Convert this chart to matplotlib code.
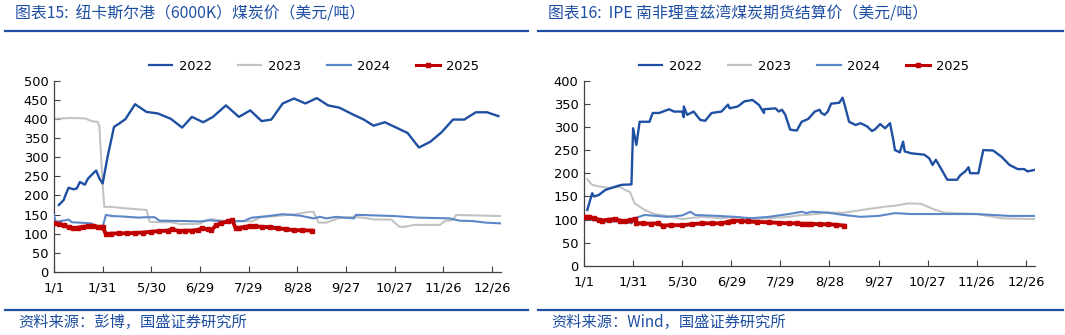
import matplotlib
matplotlib.use("Agg")
import matplotlib.pyplot as plt
from matplotlib.lines import Line2D

plt.rcParams["font.family"] = ["DejaVu Sans", "Noto Sans CJK SC"]

# x positions are days since 1/1; one tick every 30 days
TICK_LABELS = ["1/1", "1/31", "5/30", "6/29", "7/29", "8/28", "9/27", "10/27", "11/26", "12/26"]
YEARS = ["2022", "2023", "2024", "2025"]
COLORS = {"2022": "#1F4FA3", "2023": "#C3C3C3", "2024": "#5B87C8", "2025": "#C00000"}

# ---- Newcastle (6000K) spot price ----
nc_2022_x = [3, 6, 7, 9, 12, 14, 16, 19, 21, 24, 26, 28, 30, 33, 37, 40, 44, 50, 57, 64, 72, 79,
             85, 92, 98, 106, 114, 121, 128, 134, 141, 148, 155, 162, 169, 176, 183, 191, 197,
             204, 211, 218, 225, 232, 239, 246, 253, 260, 267, 274]
nc_2022_y = [175, 188, 200, 220, 216, 218, 235, 228, 244, 257, 265, 244, 231, 300, 379, 387, 399,
             438, 418, 414, 400, 377, 405, 391, 405, 435, 405, 422, 394, 398, 440, 453, 440, 454,
             435, 429, 414, 398, 382, 391, 377, 363, 325, 340, 365, 398, 398, 417, 417, 407]

nc_2023_x = [0, 10, 19, 24, 27, 28, 30, 31, 36, 42, 51, 57, 59, 65, 72, 78, 90, 94, 97, 105, 115,
             122, 128, 134, 149, 157, 160, 163, 168, 175, 184, 190, 198, 208, 213, 216, 222, 238,
             241, 246, 248, 276]
nc_2023_y = [400, 402, 401, 393, 392, 380, 230, 170, 170, 167, 164, 162, 131, 130, 130, 125, 126,
             135, 138, 133, 133, 132, 144, 145, 151, 157, 157, 129, 129, 140, 144, 142, 137, 137,
             118, 118, 123, 123, 133, 136, 149, 146]

nc_2024_x = [0, 1, 7, 9, 11, 19, 23, 26, 28, 30, 32, 36, 42, 52, 57, 62, 65, 81, 90, 96, 105, 117,
             122, 130, 141, 152, 160, 164, 168, 174, 185, 186, 189, 210, 224, 244, 250, 258, 266, 275]
nc_2024_y = [149, 131, 135, 137, 130, 128, 127, 118, 117, 118, 149, 146, 145, 142, 143, 143, 134,
             133, 132, 135, 132, 133, 142, 145, 151, 147, 140, 144, 140, 144, 140, 149, 149, 146,
             142, 140, 134, 133, 129, 127]

nc_2025_x = [0, 3, 6, 9, 12, 15, 18, 21, 24, 27, 29, 30, 32, 35, 40, 45, 50, 55, 60, 65, 70, 73,
             77, 81, 85, 89, 91, 95, 97, 100, 103, 107, 110, 112, 114, 118, 121, 124, 128, 133,
             138, 143, 148, 153, 159]
nc_2025_y = [127, 125, 122, 117, 114, 116, 118, 119, 121, 118, 117, 117, 99, 100, 101, 101, 102,
             103, 105, 107, 108, 111, 107, 108, 108, 110, 114, 111, 109, 122, 127, 132, 135, 114,
             115, 118, 120, 119, 118, 117, 114, 112, 109, 109, 108]

# ---- IPE Richards Bay futures settlement ----
rb_2022_x = [2, 5, 6, 9, 13, 19, 23, 29, 30, 32, 34, 40, 42, 46, 52, 55, 60, 61, 61, 63, 67, 71,
             74, 78, 84, 88, 89, 94, 98, 103, 107, 110, 110, 117, 119, 121, 123, 126, 130, 133,
             137, 141, 144, 145, 147, 149, 151, 156, 158, 159, 162, 166, 169, 173, 176, 178, 181,
             184, 187, 189, 190, 193, 195, 196, 200, 208, 211, 213, 215, 218, 222, 228, 230, 233,
             235, 236, 241, 244, 250, 255, 260, 265, 269, 271, 275]
rb_2022_y = [121, 157, 150, 153, 164, 171, 175, 176, 297, 261, 311, 311, 330, 330, 338, 333, 333,
             321, 344, 326, 333, 315, 313, 330, 333, 348, 340, 344, 355, 358, 347, 330, 338, 340,
             333, 337, 326, 294, 292, 311, 317, 333, 337, 330, 326, 333, 350, 352, 363, 351, 311,
             304, 308, 301, 291, 295, 306, 297, 308, 272, 250, 245, 268, 247, 243, 240, 232, 218,
             229, 211, 186, 186, 196, 204, 213, 200, 200, 250, 249, 236, 218, 209, 209, 204, 207]

rb_2023_x = [2, 5, 10, 17, 22, 25, 28, 31, 37, 43, 51, 60, 64, 72, 84, 92, 102, 113, 125, 133,
             136, 149, 159, 170, 184, 190, 198, 206, 214, 220, 240, 255, 276]
rb_2023_y = [187, 175, 171, 168, 171, 164, 160, 135, 121, 112, 108, 101, 103, 106, 103, 106, 101,
             103, 106, 110, 110, 115, 115, 121, 128, 130, 135, 134, 122, 115, 112, 103, 101]

rb_2024_x = [1, 11, 25, 29, 31, 37, 51, 60, 65, 68, 82, 92, 102, 113, 125, 133, 136, 139, 149,
             159, 169, 180, 190, 200, 220, 240, 250, 260, 276]
rb_2024_y = [101, 96, 96, 92, 103, 110, 106, 109, 117, 110, 108, 106, 103, 106, 112, 117, 114,
             117, 115, 110, 106, 108, 114, 112, 112, 112, 110, 108, 108]

rb_2025_x = [1, 3, 6, 9, 11, 15, 19, 22, 25, 28, 31, 32, 36, 41, 45, 48, 53, 60, 66, 72, 78, 84,
             88, 91, 96, 100, 106, 113, 119, 125, 130, 133, 136, 139, 144, 149, 154, 159]
rb_2025_y = [106, 105, 103, 100, 98, 100, 101, 98, 96, 99, 101, 92, 92, 91, 92, 87, 88, 88, 90,
             92, 92, 92, 95, 98, 97, 96, 95, 94, 93, 92, 92, 91, 91, 91, 90, 90, 89, 87]

PANELS = [
    {
        "title": "图表15:  纽卡斯尔港（6000K）煤炭价（美元/吨）",
        "source": "资料来源：彭博，国盛证券研究所",
        "series": {"2022": (nc_2022_x, nc_2022_y), "2023": (nc_2023_x, nc_2023_y),
                   "2024": (nc_2024_x, nc_2024_y), "2025": (nc_2025_x, nc_2025_y)},
        "ymax": 500, "ystep": 50,
        "rect": [54, 80.5, 501, 272],
        "frame": [5, 528],
        "legend_x": 314,
    },
    {
        "title": "图表16:  IPE 南非理查兹湾煤炭期货结算价（美元/吨）",
        "source": "资料来源：Wind，国盛证券研究所",
        "series": {"2022": (rb_2022_x, rb_2022_y), "2023": (rb_2023_x, rb_2023_y),
                   "2024": (rb_2024_x, rb_2024_y), "2025": (rb_2025_x, rb_2025_y)},
        "ymax": 400, "ystep": 50,
        "rect": [584, 80.5, 1035, 266],
        "frame": [538, 1063],
        "legend_x": 804,
    },
]

W, H = 1065, 335
fig = plt.figure(figsize=(W / 100, H / 100), dpi=100)
BLUE = "#1F4FA3"


def px(x, y):
    return x / W, 1 - y / H


for p in PANELS:
    x0, y0, x1, y1 = p["rect"]
    ax = fig.add_axes([x0 / W, 1 - y1 / H, (x1 - x0) / W, (y1 - y0) / H])
    for yr in YEARS:
        xs, ys = p["series"][yr]
        if yr == "2025":
            ax.plot(xs, ys, color=COLORS[yr], lw=2.8, marker="s", ms=2.8, zorder=5)
        elif yr == "2022":
            ax.plot(xs, ys, color=COLORS[yr], lw=1.7, zorder=4)
        else:
            ax.plot(xs, ys, color=COLORS[yr], lw=1.5, zorder=3 if yr == "2024" else 2)

    xmax = 275.6
    ax.set_xlim(0, xmax)
    ax.set_ylim(0, p["ymax"])
    ax.set_xticks([i * 30 for i in range(len(TICK_LABELS))])
    ax.set_xticklabels(TICK_LABELS)
    ax.set_yticks(range(0, p["ymax"] + 1, p["ystep"]))
    ax.tick_params(direction="in", length=4, width=0.8, labelsize=9.4, colors="#404040",
                   labelcolor="black", pad=4)
    ax.tick_params(axis="x", pad=7)
    for s in ["top", "right"]:
        ax.spines[s].set_visible(False)
    for s in ["left", "bottom"]:
        ax.spines[s].set_color("#404040")
        ax.spines[s].set_linewidth(0.9)

    handles = []
    for yr in YEARS:
        if yr == "2025":
            handles.append(Line2D([], [], color=COLORS[yr], lw=2.2, marker="s", ms=2.8))
        else:
            handles.append(Line2D([], [], color=COLORS[yr], lw=1.6))
    lx, ly = px(p["legend_x"], 66)
    ax.legend(handles, YEARS, loc="center", bbox_to_anchor=(lx, ly),
              bbox_transform=fig.transFigure, ncol=4, frameon=False, fontsize=9.4,
              handlelength=1.8, handletextpad=0.5, columnspacing=2.0)

    fx0, fx1 = p["frame"]
    fig.add_artist(Line2D([fx0 / W, fx1 / W], [1 - 31 / H] * 2, color=BLUE, lw=1.6))
    fig.add_artist(Line2D([fx0 / W, fx1 / W], [1 - 310 / H] * 2, color=BLUE, lw=1.6))
    tx, ty = px(fx0 + 10, 14)
    fig.text(tx, ty, p["title"], fontsize=11.4, color=BLUE, va="center", ha="left",
             style="italic", family=["Noto Sans CJK SC", "DejaVu Sans"])
    sx, sy = px(fx0 + 13, 322)
    fig.text(sx, sy, p["source"], fontsize=11, color=BLUE, va="center", ha="left",
             style="italic", family=["Noto Sans CJK SC", "DejaVu Sans"])

fig.savefig("out.png", dpi=100)
